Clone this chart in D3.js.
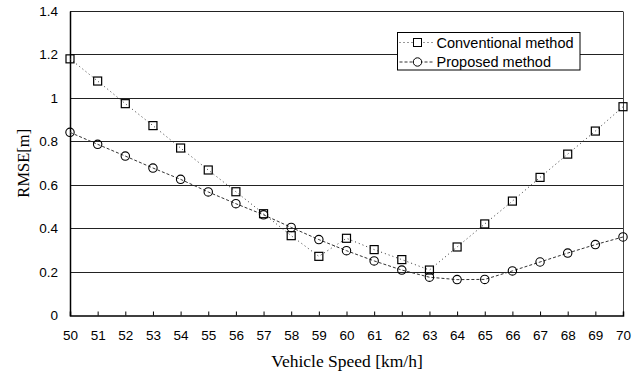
<!DOCTYPE html>
<html>
<head>
<meta charset="utf-8">
<script src="https://cdn.jsdelivr.net/npm/d3@7"></script>
<style>
  body { margin: 0; background: #fff; }
  svg { display: block; }
  .tick text { font-family: "Liberation Sans", Arial, sans-serif; font-size: 13.5px; fill: #000; }
</style>
</head>
<body>
<div id="chart"></div>
<script>
const width = 644;
const height = 371;

const speeds = [50, 51, 52, 53, 54, 55, 56, 57, 58, 59, 60, 61, 62, 63, 64, 65, 66, 67, 68, 69, 70];
const conventional = [1.18, 1.078, 0.974, 0.873, 0.770, 0.669, 0.569, 0.468, 0.367, 0.272, 0.355,
  0.303, 0.257, 0.209, 0.315, 0.421, 0.526, 0.635, 0.742, 0.848, 0.96];
const proposed = [0.842, 0.787, 0.733, 0.678, 0.626, 0.568, 0.514, 0.463, 0.405, 0.349, 0.298,
  0.251, 0.209, 0.176, 0.165, 0.166, 0.205, 0.246, 0.287, 0.326, 0.361];
const yTicks = [0, 0.2, 0.4, 0.6, 0.8, 1, 1.2, 1.4];
const seriesNames = ["Conventional method", "Proposed method"];

const margin = { left: 70, top: 11, right: 21, bottom: 55.5 };
const plotW = width - margin.left - margin.right;
const plotH = height - margin.top - margin.bottom;

const x = d3.scaleLinear().domain([50, 70]).range([0, plotW]);
const y = d3.scaleLinear().domain([0, 1.4]).range([plotH, 0]);

const svg = d3.select("#chart")
  .append("svg")
  .attr("width", width)
  .attr("height", height);

const g = svg.append("g")
  .attr("transform", `translate(${margin.left},${margin.top})`);

// grid lines
g.selectAll(".grid")
  .data(yTicks.filter(d => d > 0))
  .enter()
  .append("line")
  .classed("grid", true)
  .attr("x1", 0)
  .attr("x2", plotW)
  .attr("y1", d => Math.round(y(d)) + 0.5)
  .attr("y2", d => Math.round(y(d)) + 0.5)
  .attr("stroke", "#222")
  .attr("stroke-width", 1);

// right border
g.append("line")
  .attr("x1", plotW + 0.5).attr("x2", plotW + 0.5)
  .attr("y1", Math.round(y(1.4)) + 0.5).attr("y2", plotH)
  .attr("stroke", "#444")
  .attr("stroke-width", 1);

// axes
const xAxis = g.append("g")
  .attr("transform", `translate(0,${plotH})`)
  .call(d3.axisBottom(x).tickValues(speeds).tickFormat(d3.format("d")).tickSize(-4).tickPadding(15));
xAxis.select(".domain").attr("stroke", "#000").attr("stroke-width", 1.5);
xAxis.selectAll(".tick line").attr("stroke", "#000");

const yAxis = g.append("g")
  .call(d3.axisLeft(y).tickValues(yTicks).tickFormat(d => d3.format("")(+d.toFixed(1))).tickSize(0).tickPadding(12));
yAxis.select(".domain").attr("stroke", "#000").attr("stroke-width", 1.5);

// series
const line = d3.line().x(d => x(d[0])).y(d => y(d[1]));
const convData = speeds.map((s, i) => [s, conventional[i]]);
const propData = speeds.map((s, i) => [s, proposed[i]]);

g.append("path")
  .datum(convData)
  .attr("d", line)
  .attr("fill", "none")
  .attr("stroke", "#333")
  .attr("stroke-width", 1)
  .attr("stroke-dasharray", "1,3");

g.append("path")
  .datum(propData)
  .attr("d", line)
  .attr("fill", "none")
  .attr("stroke", "#333")
  .attr("stroke-width", 1)
  .attr("stroke-dasharray", "3,2");

g.selectAll(".sq")
  .data(convData)
  .enter()
  .append("rect")
  .classed("sq", true)
  .attr("x", d => x(d[0]) - 4)
  .attr("y", d => y(d[1]) - 4)
  .attr("width", 8)
  .attr("height", 8)
  .attr("fill", "none")
  .attr("stroke", "#000")
  .attr("stroke-width", 1.2);

g.selectAll(".ci")
  .data(propData)
  .enter()
  .append("circle")
  .classed("ci", true)
  .attr("cx", d => x(d[0]))
  .attr("cy", d => y(d[1]))
  .attr("r", 4.2)
  .attr("fill", "none")
  .attr("stroke", "#000")
  .attr("stroke-width", 1.1);

// legend
const legend = svg.append("g").attr("transform", "translate(397.5,32.5)");
legend.append("rect")
  .attr("width", 182.5)
  .attr("height", 37.5)
  .attr("fill", "#fff")
  .attr("stroke", "#000")
  .attr("stroke-width", 1);

const rows = legend.selectAll(".row")
  .data(seriesNames)
  .enter()
  .append("g")
  .attr("transform", (d, i) => `translate(0,${10 + i * 19.5})`);

rows.append("line")
  .attr("x1", 2).attr("x2", 37)
  .attr("stroke", "#333")
  .attr("stroke-dasharray", (d, i) => i === 0 ? "1,3" : "3,2");

rows.filter((d, i) => i === 0).append("rect")
  .attr("x", 16).attr("y", -4).attr("width", 8).attr("height", 8)
  .attr("fill", "#fff").attr("stroke", "#000");
rows.filter((d, i) => i === 1).append("circle")
  .attr("cx", 20).attr("r", 4.2)
  .attr("fill", "#fff").attr("stroke", "#000");

rows.append("text")
  .attr("x", 39)
  .attr("y", 5)
  .style("font-family", "'Liberation Sans', Arial, sans-serif")
  .style("font-size", "14.5px")
  .text(d => d);

// titles
svg.append("text")
  .attr("x", 347)
  .attr("y", 367)
  .attr("text-anchor", "middle")
  .style("font-family", "'Liberation Serif', 'Times New Roman', serif")
  .style("font-size", "17.5px")
  .text("Vehicle Speed [km/h]");

svg.append("text")
  .attr("transform", `translate(29,${margin.top + plotH / 2}) rotate(-90)`)
  .attr("text-anchor", "middle")
  .style("font-family", "'Liberation Serif', 'Times New Roman', serif")
  .style("font-size", "16.5px")
  .text("RMSE[m]");
</script>
</body>
</html>
